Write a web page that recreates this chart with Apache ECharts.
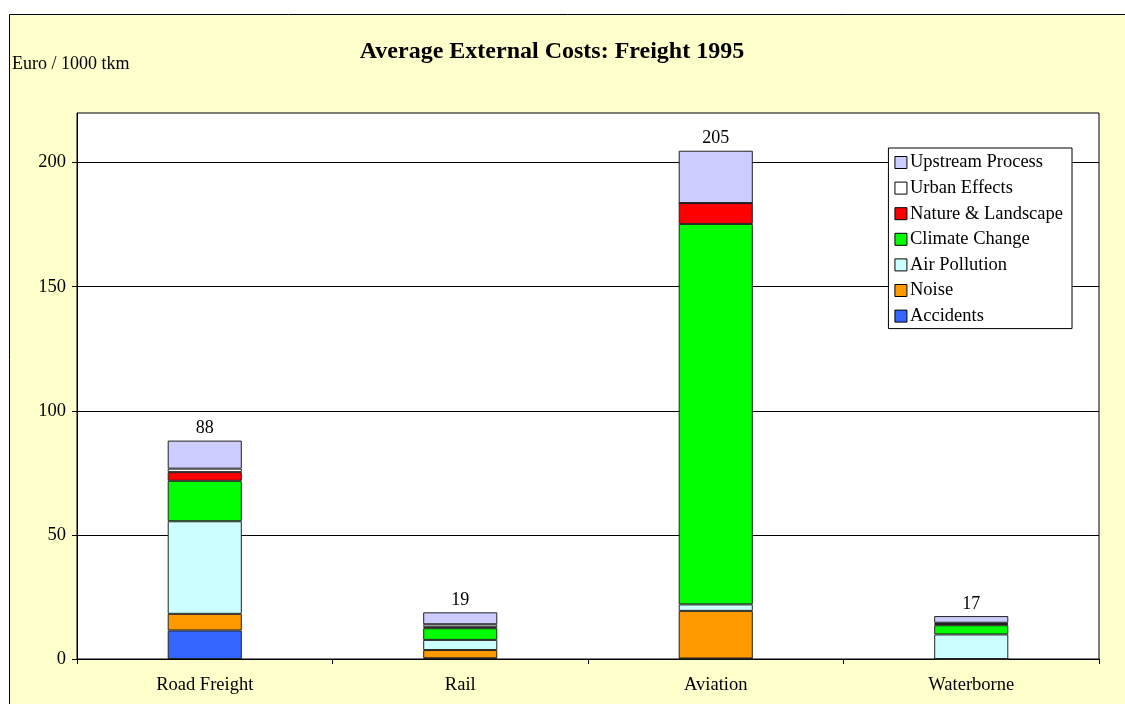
<!DOCTYPE html>
<html>
<head>
<meta charset="utf-8">
<script src="https://cdn.jsdelivr.net/npm/echarts@6/dist/echarts.min.js"></script>
<style>
html,body{margin:0;padding:0;background:#fff}
#main{width:1125px;height:704px}
</style>
</head>
<body>
<div id="main"></div>
<script>
// categories and values (Euro / 1000 tkm)
const categories = ['Road Freight', 'Rail', 'Aviation', 'Waterborne']
const accidents = [11.5, 0.3, 0.2, 0]
const noise = [6.7, 3.3, 19.2, 0]
const airPollution = [37.3, 4.1, 2.6, 9.9]
const climateChange = [16.3, 4.7, 153.3, 3.7]
const natureLandscape = [3.5, 0.6, 8.4, 0.5]
const urbanEffects = [1.4, 1.0, 0, 0.5]
const upstreamProcess = [11.3, 4.8, 21.1, 2.7]
const totals = [88, 19, 205, 17]
const yTicks = [0, 50, 100, 150, 200]

const serif = '"Liberation Serif", "DejaVu Serif", serif'

function bar(name, data, color) {
  return {
    name: name,
    type: 'bar',
    stack: 'cost',
    data: data,
    barWidth: '29%',
    itemStyle: { color: color, borderColor: '#222', borderWidth: 1 }
  }
}

let chart = echarts.init(document.getElementById('main'))

let series = [
  bar('Accidents', accidents, '#3366ff'),
  bar('Noise', noise, '#ff9900'),
  bar('Air Pollution', airPollution, '#ccffff'),
  bar('Climate Change', climateChange, '#00ff00'),
  bar('Nature & Landscape', natureLandscape, '#ff0000'),
  bar('Urban Effects', urbanEffects, '#ffffff'),
  bar('Upstream Process', upstreamProcess, '#ccccff')
]
// total on top of each column
series[6].label = {
  show: true,
  position: 'top',
  distance: 3,
  color: '#000',
  fontFamily: serif,
  fontSize: 18,
  formatter: function (p) { return totals[p.dataIndex] }
}

chart.setOption({
  animation: false,
  textStyle: { fontFamily: serif },
  graphic: [{
    type: 'rect',
    z: -10,
    shape: { x: 9.5, y: 14.5, width: 1130, height: 700 },
    style: { fill: '#ffffcc', stroke: '#000', lineWidth: 1 }
  }],
  title: {
    text: 'Average External Costs: Freight 1995',
    left: 547,
    textAlign: 'center',
    top: 35,
    textStyle: { fontFamily: serif, fontSize: 24, fontWeight: 'bold', color: '#000' }
  },
  legend: {
    orient: 'vertical',
    right: 53,
    top: 148,
    padding: [5, 9, 3, 6],
    itemGap: 6.6,
    itemWidth: 12,
    itemHeight: 12,
    icon: 'rect',
    backgroundColor: '#fff',
    borderColor: '#000',
    borderWidth: 1,
    borderRadius: 0,
    itemStyle: { borderColor: '#000', borderWidth: 1 },
    textStyle: { fontFamily: serif, fontSize: 18.5, color: '#000', padding: [0, 0, 0, -2] },
    data: ['Upstream Process', 'Urban Effects', 'Nature & Landscape', 'Climate Change', 'Air Pollution', 'Noise', 'Accidents']
  },
  grid: {
    left: 77, right: 26, top: 113, bottom: 45,
    show: true,
    backgroundColor: '#fff',
    borderColor: '#000',
    borderWidth: 1
  },
  xAxis: {
    type: 'category',
    data: categories,
    axisLine: { lineStyle: { color: '#000' } },
    axisTick: { show: true, length: 5, lineStyle: { color: '#000' } },
    axisLabel: { color: '#000', fontFamily: serif, fontSize: 18.5, margin: 17 }
  },
  yAxis: {
    type: 'value',
    name: 'Euro / 1000 tkm',
    nameLocation: 'end',
    nameGap: 0,
    nameTextStyle: { color: '#000', fontFamily: serif, fontSize: 18, align: 'left', padding: [0, 0, 40, -65] },
    min: 0,
    max: 220,
    interval: 50,
    axisLine: { show: true, lineStyle: { color: '#000' } },
    axisTick: { show: true, length: 5, customValues: yTicks, lineStyle: { color: '#000' } },
    axisLabel: {
      color: '#000', fontFamily: serif, fontSize: 18.5, margin: 11,
      customValues: yTicks
    },
    splitLine: { lineStyle: { color: '#000', width: 1 } }
  },
  series: series
})
</script>
</body>
</html>
